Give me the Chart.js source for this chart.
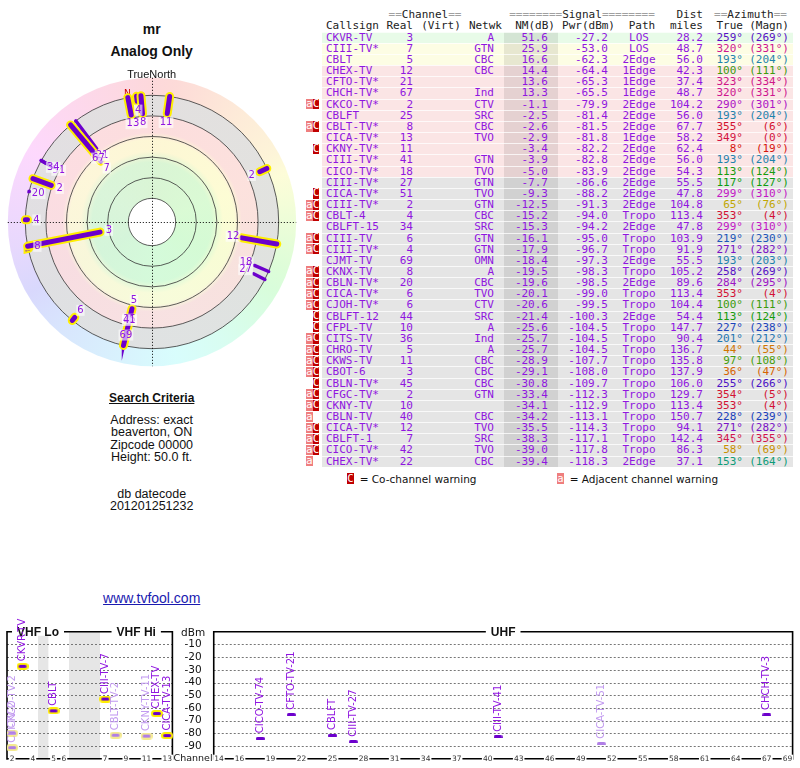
<!DOCTYPE html>
<html>
<head>
<meta charset="utf-8">
<title>mr - Analog Only</title>
<script src="https://cdn.jsdelivr.net/npm/chart.js@4.4.1/dist/chart.umd.min.js"></script>
<style>
  html, body { margin: 0; padding: 0; background: #fff; }
  body { width: 800px; height: 768px; position: relative; overflow: hidden;
         font-family: "Liberation Sans", Arial, sans-serif; color: #111; }
  .ctr { position: absolute; left: 51.7px; width: 200px; text-align: center; white-space: nowrap; }
  #radar { position: absolute; left: 4px; top: 74px; }
  #bands { position: absolute; left: 0; top: 600px; }
  #table { position: absolute; left: 303px; top: 8.5px; font: 11px "DejaVu Sans Mono", monospace; color: #9016e0; }
  .tr { display: flex; height: 11.6px; line-height: 11.6px; white-space: pre; }
  .tr.data { height: 11.17px; line-height: 11.17px; }
  .tr > div { box-sizing: border-box; flex: none; overflow: visible; }
  .tr.data > div.c { border-top: 1px solid rgba(255,255,255,0.75); line-height: 10.2px; }
  .hd { color: #222; }
  .eq { color: #a0a0a0; }
  .mk { display: inline-block; width: 6.66px; height: 10.2px; line-height: 10.4px; text-align: center; color: #fff; vertical-align: top; margin-top: 0.5px; }
  .legend { position: absolute; top: 473px; font: 10.5px "DejaVu Sans", sans-serif; color: #111; white-space: nowrap; line-height: 12px; }
  .legend .mk { height: 11px; margin: 0 6px 0 0; font-family: "DejaVu Sans Mono", monospace; }
</style>
</head>
<body>

<div class="ctr" style="top:21px;font:bold 14px/16px 'Liberation Sans',Arial,sans-serif">mr</div>
<div class="ctr" style="top:43px;font:bold 14px/16px 'Liberation Sans',Arial,sans-serif">Analog Only</div>
<canvas id="radar" width="296" height="296"></canvas>
<div class="ctr" style="top:67.5px;font:11px/13px 'Liberation Sans',Arial,sans-serif;z-index:2">TrueNorth</div>

<div class="ctr" style="top:390.5px;font:bold 12px/14px 'Liberation Sans',Arial,sans-serif;text-decoration:underline">Search Criteria</div>
<div class="ctr" style="top:413.8px;font:12.5px/12.4px 'Liberation Sans',Arial,sans-serif">Address: exact<br>beaverton, ON<br>Zipcode 00000<br>Height: 50.0 ft.</div>
<div class="ctr" style="top:487.8px;font:12.5px/12.4px 'Liberation Sans',Arial,sans-serif">db datecode<br>201201251232</div>
<div class="ctr" style="top:589.7px;font:14px/16px 'Liberation Sans',Arial,sans-serif;color:#1a1ab0;text-decoration:underline">www.tvfool.com</div>

<div id="table"></div>
<div class="legend" style="left:347px"><span class="mk" style="background:#c00000">C</span>= Co-channel warning</div>
<div class="legend" style="left:557px"><span class="mk" style="background:#ef7e7e">a</span>= Adjacent channel warning</div>

<canvas id="bands" width="800" height="168"></canvas>

<script>
// ---- station data (one entry per table row) ----
const callsigns = ['CKVR-TV','CIII-TV*','CBLT','CHEX-TV','CFTO-TV*','CHCH-TV*','CKCO-TV*','CBLFT','CBLT-TV*','CICA-TV*',
  'CKNY-TV*','CIII-TV*','CICO-TV*','CIII-TV*','CICA-TV*','CIII-TV*','CBLT-4','CBLFT-15','CIII-TV','CIII-TV*',
  'CJMT-TV','CKNX-TV','CBLN-TV*','CICA-TV*','CJOH-TV*','CBLFT-12','CFPL-TV','CITS-TV','CHRO-TV','CKWS-TV',
  'CBOT-6','CBLN-TV*','CFGC-TV*','CKNY-TV','CBLN-TV','CICA-TV*','CBLFT-1','CICO-TV*','CHEX-TV*'];
const realCh = [3,7,5,12,21,67,2,25,8,13, 11,41,18,27,51,2,4,34,6,4, 69,8,20,6,6,44,10,36,5,11, 3,45,2,10,40,12,7,42,22];
const networks = ['A','GTN','CBC','CBC','','Ind','CTV','SRC','CBC','TVO', '','GTN','TVO','GTN','TVO','GTN','CBC','SRC','GTN','GTN',
  'OMN','A','CBC','TVO','CTV','SRC','A','Ind','A','CBC', 'CBC','CBC','GTN','','CBC','TVO','SRC','TVO','CBC'];
const nmDb = [51.6,25.9,16.6,14.4,13.6,13.3,-1.1,-2.5,-2.6,-2.9, -3.4,-3.9,-5.0,-7.7,-9.3,-12.5,-15.2,-15.3,-16.1,-17.9,
  -18.4,-19.5,-19.6,-20.1,-20.6,-21.4,-25.6,-25.7,-25.7,-28.9, -29.1,-30.8,-33.4,-34.1,-34.2,-35.5,-38.3,-39.0,-39.4];
const pwrDbm = [-27.2,-53.0,-62.3,-64.4,-65.3,-65.5,-79.9,-81.4,-81.5,-81.8, -82.2,-82.8,-83.9,-86.6,-88.2,-91.3,-94.0,-94.2,-95.0,-96.7,
  -97.3,-98.3,-98.5,-99.0,-99.5,-100.3,-104.5,-104.5,-104.5,-107.7, -108.0,-109.7,-112.3,-112.9,-113.1,-114.3,-117.1,-117.8,-118.3];
const paths = ['LOS','LOS','2Edge','1Edge','1Edge','1Edge','2Edge','2Edge','2Edge','1Edge', '2Edge','2Edge','2Edge','2Edge','2Edge','2Edge','Tropo','2Edge','Tropo','Tropo',
  '2Edge','Tropo','2Edge','Tropo','Tropo','2Edge','Tropo','Tropo','Tropo','Tropo', 'Tropo','Tropo','Tropo','Tropo','Tropo','Tropo','Tropo','Tropo','2Edge'];
const distMi = [28.2,48.7,56.0,42.3,37.4,48.7,104.2,56.0,67.7,58.2, 62.4,56.0,54.3,55.5,47.8,104.8,113.4,47.8,103.9,91.9,
  55.5,105.2,89.6,113.4,104.4,54.4,147.7,90.4,136.7,135.8, 137.9,106.0,129.7,113.4,150.7,94.1,142.4,86.3,37.1];
const azTrue = [259,320,193,100,323,320,290,193,355,349, 8,193,113,117,299,65,353,299,219,271,
  193,258,284,353,100,113,227,201,44,97, 36,255,354,353,228,271,345,58,153];
const azMagn = [269,331,204,111,334,331,301,204,6,0, 19,204,124,127,310,76,4,310,230,282,
  203,269,295,4,111,124,238,212,55,108, 47,266,5,4,239,282,355,69,164];
const warnings = ['','','','','','','aC','','aC','', 'C','','','','C','aC','aC','','aC','aC',
  '','aC','aC','aC','aC','C','C','aC','aC','aC', 'aC','C','aC','aC','a','aC','aC','aC','a'];
// names printed on the channel chart (first rows, strongest signals)
const graphNames = ['CKVR-TV','CIII-TV-7','CBLT','CHEX-TV','CFTO-TV-21','CHCH-TV-3','CKCO-TV-2','CBLFT','CBLT-TV-2','CICA-TV-13',
  'CKNY-TV-11','CIII-TV-41','CICO-TV-74','CIII-TV-27','CICA-TV-51','CIII-TV-2'];

// ---- axis / tick data ----
const ringLevels = [80, 60, 40, 20, 0, -20];        // NM(dB) circles on the radar plot
const dbmTicks = [-10, -20, -30, -40, -50, -60, -70, -80, -90];
const vhfTicks = [2, 4, 5, 6, 7, 9, 11, 13];
const uhfTicks = [14, 16, 19, 22, 25, 28, 31, 34, 37, 40, 43, 46, 49, 52, 55, 58, 61, 64, 67, 69];

// ---- colours ----
const PURPLE = '#6c00cc', YELLOW = '#ffee00';
const TEXT_PURPLE = '#9016e0', LIGHT_PURPLE = '#c29af0';

// azimuth -> hue, matching the colour wheel
const hueStops = [[0,-5,85,45],[36,28,100,42],[60,45,100,39],[100,100,85,33],[153,165,85,33],[193,198,70,40],
  [225,222,75,42],[260,265,85,42],[300,300,80,43],[325,325,80,45],[360,355,85,45]];
function azHsl(az) {
  az = ((az % 360) + 360) % 360;
  let i = 0;
  while (i < hueStops.length - 2 && az > hueStops[i + 1][0]) i++;
  const [a0, h0, s0, l0] = hueStops[i], [a1, h1, s1, l1] = hueStops[i + 1];
  const t = (az - a0) / (a1 - a0);
  return [(h0 + t * (h1 - h0) + 360) % 360, s0 + t * (s1 - s0), l0 + t * (l1 - l0)];
}
const azColor = az => { const [h, s, l] = azHsl(az); return `hsl(${h},${s}%,${l}%)`; };
const pastel = az => `hsl(${azHsl(az)[0]},90%,92%)`;

function rowColor(nm) {
  if (nm >= 35) return '#e8fbe8';
  if (nm >= 15) return '#fdfde4';
  if (nm >= -6) return '#fbe5e5';
  return '#e5e5e5';
}

// ---- table ----
const colW = [19, 62, 32, 50, 38, 54, 60, 42, 48, 40, 45];
const deg = '\u00b0';
function cellHtml(w, text, style, cls) {
  return `<div class="${cls || ''}" style="width:${w}px;${style || ''}">${text}</div>`;
}
const eqWrap = s => s.replace(/(=+)/g, '<span class="eq">$1</span>');
let html = '<div class="tr hd">' +
  cellHtml(colW[0] + colW[1], '') +
  cellHtml(colW[2] + colW[3], eqWrap('==Channel=='), 'text-align:center') +
  cellHtml(colW[4], '') +
  cellHtml(colW[5] + colW[6] + colW[7], eqWrap('========Signal========'), 'text-align:center') +
  cellHtml(colW[8], 'Dist', 'text-align:right;padding-right:5px') +
  cellHtml(colW[9] + colW[10], eqWrap('==Azimuth=='), 'text-align:center') + '</div>';
html += '<div class="tr hd">' +
  cellHtml(colW[0], '') +
  cellHtml(colW[1], 'Callsign', 'padding-left:4px') +
  cellHtml(colW[2], 'Real', 'text-align:right;padding-right:3px') +
  cellHtml(colW[3], '(Virt)', 'text-align:center') +
  cellHtml(colW[4], 'Netwk', 'text-align:right;padding-right:2px') +
  cellHtml(colW[5], 'NM(dB)', 'text-align:right;padding-right:3px') +
  cellHtml(colW[6], 'Pwr(dBm)', 'text-align:right;padding-right:3px') +
  cellHtml(colW[7], 'Path', 'text-align:center;padding-left:6px') +
  cellHtml(colW[8], 'miles', 'text-align:right;padding-right:5px') +
  cellHtml(colW[9], 'True', 'text-align:right;padding-right:5px') +
  cellHtml(colW[10], '(Magn)', 'text-align:right;padding-right:4px') + '</div>';

callsigns.forEach((cs, i) => {
  const bg = 'background-color:' + rowColor(nmDb[i]) + ';';
  const shade = 'background-image:linear-gradient(rgba(0,0,0,0.085),rgba(0,0,0,0.085));';
  const w = warnings[i];
  const marks = `<span class="mk" style="background:${w.includes('a') ? '#ef7e7e' : 'transparent'}">${w.includes('a') ? 'a' : ''}</span>` +
                `<span class="mk" style="background:${w.includes('C') ? '#c00000' : 'transparent'}">${w.includes('C') ? 'C' : ''}</span>`;
  const ac = azColor(azTrue[i]);
  html += '<div class="tr data">' +
    cellHtml(colW[0], marks, 'padding-left:3px') +
    cellHtml(colW[1], cs, bg + 'padding-left:4px', 'c') +
    cellHtml(colW[2], String(realCh[i]), bg + 'text-align:right;padding-right:3px', 'c') +
    cellHtml(colW[3], '', bg, 'c') +
    cellHtml(colW[4], networks[i], bg + 'text-align:right;padding-right:10px', 'c') +
    cellHtml(colW[5], nmDb[i].toFixed(1), bg + shade + 'text-align:right;padding-right:10px', 'c') +
    cellHtml(colW[6], pwrDbm[i].toFixed(1), bg + 'text-align:right;padding-right:10px', 'c') +
    cellHtml(colW[7], paths[i], bg + 'text-align:center', 'c') +
    cellHtml(colW[8], distMi[i].toFixed(1), bg + 'text-align:right;padding-right:5px', 'c') +
    cellHtml(colW[9], azTrue[i] + deg, bg + 'text-align:right;padding-right:5px;color:' + ac, 'c') +
    cellHtml(colW[10], '(' + azMagn[i] + deg + ')', bg + 'text-align:right;padding-right:4px;color:' + ac, 'c') +
    '</div>';
});
document.getElementById('table').innerHTML = html;

// ---- radar plot ----
const radarTop = 103;      // NM value at the centre
const radarFloor = -20;    // weakest NM drawn (outer circle)
const ringEdgeNm = -37;    // outer edge of the hue wheel
const radarSpan = 148 / 1.03;
const magDecl = azMagn.reduce((s, m, i) => s + ((m - azTrue[i] + 360) % 360), 0) / azMagn.length;

const radarSets = [];
nmDb.forEach((nm, i) => {
  if (nm < radarFloor) return;
  const a = azTrue[i] * Math.PI / 180;
  const pt = u => ({ x: u * Math.sin(a), y: u * Math.cos(a) });
  const pts = [pt(radarTop - nm), pt(radarTop - radarFloor)];
  const vhf = realCh[i] <= 13;
  radarSets.push({ data: pts, showLine: true, borderColor: PURPLE, borderWidth: vhf ? 5 : 3.5,
                   borderCapStyle: 'round', pointRadius: 0, fill: false });
  if (vhf) radarSets.push({ data: pts, showLine: true, borderColor: YELLOW, borderWidth: 9,
                            borderCapStyle: 'round', pointRadius: 0, fill: false });
});

const radarDecor = {
  id: 'radarDecor',
  beforeDatasetsDraw(chart) {
    const { ctx, scales: { x, y } } = chart;
    const cx = x.getPixelForValue(0), cy = y.getPixelForValue(0);
    const rad = nm => x.getPixelForValue(radarTop - nm) - cx;
    const rEdge = rad(ringEdgeNm), rOut = rad(radarFloor);
    ctx.save();
    // hue wheel
    if (ctx.createConicGradient) {
      const g = ctx.createConicGradient(-Math.PI / 2, cx, cy);
      for (let az = 0; az <= 360; az += 10) g.addColorStop(az / 360, pastel(az));
      ctx.fillStyle = g;
      ctx.beginPath(); ctx.arc(cx, cy, rEdge, 0, 2 * Math.PI); ctx.fill();
    } else {
      for (let az = 0; az < 360; az += 5) {
        ctx.fillStyle = pastel(az + 2.5);
        ctx.beginPath(); ctx.moveTo(cx, cy);
        ctx.arc(cx, cy, rEdge, (az - 90) * Math.PI / 180, (az - 84) * Math.PI / 180);
        ctx.fill();
      }
    }
    // signal bands
    const rg = ctx.createRadialGradient(cx, cy, 0, cx, cy, rOut);
    const stop = (nm, c) => rg.addColorStop(Math.max(0, Math.min(1, rad(nm) / rOut)), c);
    const green = 'rgba(212,250,212,0.85)', yellow = 'rgba(253,252,212,0.85)',
          pink = 'rgba(252,222,222,0.88)', grey = 'rgba(224,224,224,0.92)';
    stop(80, green); stop(45, green); stop(34, yellow); stop(23, yellow); stop(16, pink);
    stop(0.2, pink); stop(0, grey); stop(radarFloor, grey);
    ctx.fillStyle = rg;
    ctx.beginPath(); ctx.arc(cx, cy, rOut, 0, 2 * Math.PI); ctx.fill();
    ctx.fillStyle = '#fff';
    ctx.beginPath(); ctx.arc(cx, cy, rad(ringLevels[0]), 0, 2 * Math.PI); ctx.fill();
    // circles
    ctx.strokeStyle = '#333'; ctx.lineWidth = 0.8;
    ringLevels.forEach(nm => { ctx.beginPath(); ctx.arc(cx, cy, rad(nm), 0, 2 * Math.PI); ctx.stroke(); });
    // dotted crosshair
    ctx.strokeStyle = '#000'; ctx.lineWidth = 1; ctx.setLineDash([1, 2]);
    ctx.beginPath();
    ctx.moveTo(cx - rEdge, cy + 0.5); ctx.lineTo(cx + rEdge, cy + 0.5);
    ctx.moveTo(cx + 0.5, cy - rEdge); ctx.lineTo(cx + 0.5, cy + rEdge);
    ctx.stroke();
    ctx.setLineDash([]);
    // magnetic north marker
    const ma = (360 - magDecl) * Math.PI / 180, mr = rad(-23.5);
    ctx.fillStyle = '#cc0000'; ctx.font = '9px "DejaVu Sans", sans-serif';
    ctx.textAlign = 'center'; ctx.textBaseline = 'middle';
    ctx.fillText('N', cx + mr * Math.sin(ma), cy - mr * Math.cos(ma));
    ctx.restore();
  },
  afterDatasetsDraw(chart) {
    const { ctx, scales: { x, y } } = chart;
    const cx = x.getPixelForValue(0), cy = y.getPixelForValue(0);
    ctx.save();
    ctx.font = '10px "DejaVu Sans", sans-serif';
    ctx.textAlign = 'center'; ctx.textBaseline = 'middle';
    nmDb.forEach((nm, i) => {
      if (nm < radarFloor) return;
      const a = azTrue[i] * Math.PI / 180, u = radarTop - nm;
      const px = x.getPixelForValue(u * Math.sin(a)), py = y.getPixelForValue(u * Math.cos(a));
      const d = Math.hypot(px - cx, py - cy), k = (d - 9) / d;
      const lx = cx + (px - cx) * k, ly = cy + (py - cy) * k;
      const t = String(realCh[i]), w = ctx.measureText(t).width;
      ctx.fillStyle = 'rgba(255,255,255,0.6)';
      ctx.fillRect(lx - w / 2 - 1, ly - 5.5, w + 2, 11);
      ctx.fillStyle = TEXT_PURPLE;
      ctx.fillText(t, lx, ly);
    });
    ctx.restore();
  }
};

new Chart(document.getElementById('radar'), {
  type: 'scatter',
  data: { datasets: radarSets },
  options: {
    responsive: false, animation: false, events: [],
    layout: { autoPadding: false, padding: 0 },
    plugins: { legend: { display: false }, tooltip: { enabled: false } },
    scales: {
      x: { type: 'linear', min: -radarSpan, max: radarSpan, display: false },
      y: { type: 'linear', min: -radarSpan, max: radarSpan, display: false }
    }
  },
  plugins: [radarDecor]
});

// ---- channel / power chart ----
const bandFloorNm = -15;
const slotOf = ch => ch <= 4 ? ch - 2 : ch <= 6 ? ch - 1 : ch <= 13 ? ch + 2 : ch + 6;
const panels = [{ from: -0.5, to: 15.5 }, { from: 19.5, to: 75.5 }];
const panelTitles = [{ text: 'VHF Lo', from: -0.5, to: 5.5 }, { text: 'VHF Hi', from: 8.5, to: 15.5 }, { text: 'UHF', from: 19.5, to: 75.5 }];
const gapSlots = [[2.5, 3.5], [5.5, 8.5]];

function markerImage(w, h, fill, edge) {
  const pad = edge ? 2 : 0;
  const c = document.createElement('canvas');
  c.width = w + 2 * pad; c.height = h + 2 * pad;
  const g = c.getContext('2d');
  const cap = (x0, y0, ww, hh, col) => {
    g.fillStyle = col; g.beginPath();
    if (g.roundRect) g.roundRect(x0, y0, ww, hh, hh / 2); else g.rect(x0, y0, ww, hh);
    g.fill();
  };
  if (edge) cap(0, 0, c.width, c.height, edge);
  cap(pad, pad, w, h, fill);
  return c;
}
const markers = {
  vhfDark: markerImage(8, 3, PURPLE, YELLOW),
  vhfLight: markerImage(8, 3, '#b07ee6', '#f4ea90'),
  uhfDark: markerImage(9, 3.5, PURPLE),
  uhfLight: markerImage(9, 3.5, '#b07ee6')
};
const groups = { vhfDark: [], vhfLight: [], uhfDark: [], uhfLight: [] };
nmDb.forEach((nm, i) => {
  if (nm < bandFloorNm) return;
  const key = (realCh[i] <= 13 ? 'vhf' : 'uhf') + (warnings[i].includes('C') ? 'Light' : 'Dark');
  groups[key].push({ x: slotOf(realCh[i]), y: pwrDbm[i] });
});
const bandSets = Object.keys(groups).map(k => ({ data: groups[k], pointStyle: markers[k], pointRadius: 5 }));

const bandDecor = {
  id: 'bandDecor',
  beforeDatasetsDraw(chart) {
    const { ctx, scales: { x, y } } = chart;
    const top = y.getPixelForValue(0), bot = y.getPixelForValue(-100);
    ctx.save();
    ctx.fillStyle = '#e6e6e6';
    gapSlots.forEach(([a, b]) => ctx.fillRect(x.getPixelForValue(a), top, x.getPixelForValue(b) - x.getPixelForValue(a), bot - top));
    // dotted grid
    ctx.strokeStyle = '#777'; ctx.lineWidth = 1; ctx.setLineDash([2, 2]);
    dbmTicks.forEach(v => {
      const py = Math.round(y.getPixelForValue(v)) + 0.5;
      panels.forEach(p => {
        ctx.beginPath(); ctx.moveTo(x.getPixelForValue(p.from), py); ctx.lineTo(x.getPixelForValue(p.to), py); ctx.stroke();
      });
    });
    ctx.setLineDash([]);
    // frames
    ctx.strokeStyle = '#000'; ctx.lineWidth = 1.6;
    panels.forEach(p => {
      const l = x.getPixelForValue(p.from), r = x.getPixelForValue(p.to);
      ctx.beginPath();
      ctx.moveTo(l, bot + 1); ctx.lineTo(l, top); ctx.lineTo(r, top); ctx.lineTo(r, bot + 1);
      ctx.moveTo(l, bot); ctx.lineTo(r, bot);
      ctx.stroke();
    });
    // panel titles
    ctx.font = 'bold 12px "Liberation Sans", Arial, sans-serif';
    ctx.textAlign = 'center'; ctx.textBaseline = 'middle';
    panelTitles.forEach(t => {
      const c = (x.getPixelForValue(t.from) + x.getPixelForValue(t.to)) / 2, w = ctx.measureText(t.text).width;
      ctx.fillStyle = '#fff'; ctx.fillRect(c - w / 2 - 5, top - 4, w + 10, 8);
      ctx.fillStyle = '#111'; ctx.fillText(t.text, c, top + 0.5);
    });
    // channel ticks
    ctx.font = '7.5px "DejaVu Sans", sans-serif';
    vhfTicks.concat(uhfTicks).forEach(ch => {
      const px = x.getPixelForValue(slotOf(ch)), t = String(ch), w = ctx.measureText(t).width;
      ctx.fillStyle = '#fff'; ctx.fillRect(px - w / 2 - 1, bot - 4, w + 2, 8);
      ctx.fillStyle = '#333'; ctx.fillText(t, px, bot + 0.5);
    });
    // dBm scale between the panels
    const mid = x.getPixelForValue((panels[0].to + panels[1].from) / 2);
    ctx.fillStyle = '#111';
    ctx.font = '10.5px "DejaVu Sans", sans-serif';
    ctx.fillText('dBm', mid, y.getPixelForValue(0) + 1);
    dbmTicks.forEach(v => ctx.fillText(String(v), mid, y.getPixelForValue(v)));
    ctx.font = '9.5px "DejaVu Sans", sans-serif';
    ctx.fillText('Channel', mid, bot);
    ctx.restore();
  },
  afterDatasetsDraw(chart) {
    const { ctx, scales: { x, y } } = chart;
    ctx.save();
    ctx.font = '10px "DejaVu Sans", sans-serif';
    ctx.textAlign = 'left'; ctx.textBaseline = 'middle';
    nmDb.forEach((nm, i) => {
      if (nm < bandFloorNm) return;
      const px = x.getPixelForValue(slotOf(realCh[i])), py = y.getPixelForValue(pwrDbm[i]);
      ctx.save();
      ctx.translate(px, py - 5);
      ctx.rotate(-Math.PI / 2);
      ctx.fillStyle = warnings[i].includes('C') ? LIGHT_PURPLE : TEXT_PURPLE;
      ctx.fillText(graphNames[i] || callsigns[i].replace('*', ''), 0, 0);
      ctx.restore();
    });
    ctx.restore();
  }
};

new Chart(document.getElementById('bands'), {
  type: 'scatter',
  data: { datasets: bandSets },
  options: {
    responsive: false, animation: false, events: [],
    layout: { autoPadding: false, padding: { left: 7, right: 7.4, top: 31.8, bottom: 9.3 } },
    plugins: { legend: { display: false }, tooltip: { enabled: false } },
    scales: {
      x: { type: 'linear', min: -0.5, max: 75.5, display: false },
      y: { type: 'linear', min: -100, max: 0, display: false }
    }
  },
  plugins: [bandDecor]
});
</script>
</body>
</html>
